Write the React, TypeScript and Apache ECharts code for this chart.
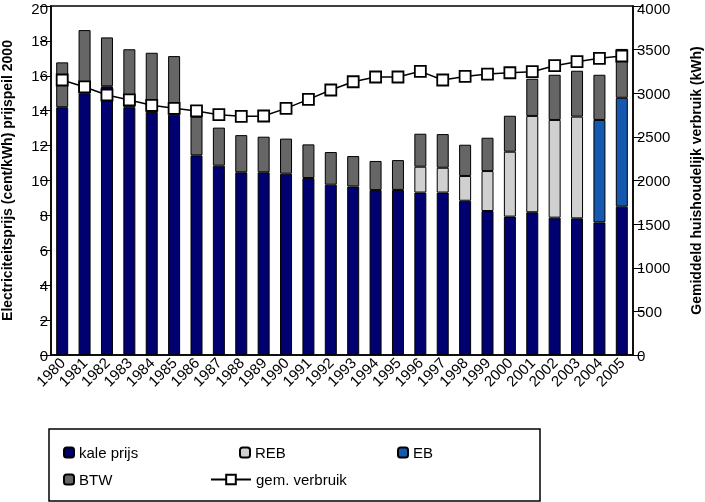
import React, { useEffect, useRef } from "react";
import * as echarts from "echarts";

const years = ["1980","1981","1982","1983","1984","1985","1986","1987","1988","1989","1990","1991","1992","1993","1994","1995","1996","1997","1998","1999","2000","2001","2002","2003","2004","2005"];
const kalePrijs = [14.2, 15.0, 15.4, 14.2, 13.93, 13.77, 11.44, 10.85, 10.47, 10.47, 10.39, 10.14, 9.76, 9.66, 9.45, 9.46, 9.31, 9.31, 8.84, 8.25, 7.93, 8.18, 7.87, 7.83, 7.6, 8.5];
const reb = [null, null, null, null, null, null, null, null, null, null, null, null, null, null, null, null, 1.48, 1.42, 1.42, 2.29, 3.72, 5.52, 5.6, 5.83, null, null];
const eb = [null, null, null, null, null, null, null, null, null, null, null, null, null, null, null, null, null, null, null, null, null, null, null, null, 5.87, 6.24];
const btw = [2.57, 3.62, 2.8, 3.32, 3.39, 3.36, 2.21, 2.18, 2.13, 2.04, 2.01, 1.93, 1.87, 1.74, 1.67, 1.71, 1.89, 1.93, 1.79, 1.91, 2.06, 2.13, 2.59, 2.63, 2.59, 2.8];
const verbruik = [3152, 3072, 2980, 2923, 2862, 2827, 2797, 2754, 2735, 2739, 2827, 2930, 3037, 3132, 3186, 3186, 3251, 3152, 3193, 3220, 3235, 3247, 3316, 3362, 3400, 3427];

const FONT = "'Liberation Sans', Arial, sans-serif";

export default function App() {
  const ref = useRef<HTMLDivElement>(null);
  useEffect(() => {
    if (!ref.current) return;
    const chart = echarts.init(ref.current, null, { renderer: "svg" });
    const barBase = {
      type: "bar",
      stack: "prijs",
      barWidth: 12,
      itemStyle: { borderColor: "#000", borderWidth: 1 },
    };
    const legendText = { fontFamily: FONT, fontSize: 15, color: "#000" };
    const mkLegend = (name: string, left: number, top: number, w = 10, h = 10) => ({
      data: [name],
      left,
      top,
      itemWidth: w,
      itemHeight: h,
      itemGap: 0,
      padding: 0,
      textStyle: legendText,
      selectedMode: false,
    });
    const topRich = { top: { fontSize: 15, fontFamily: FONT, color: "#000", padding: [4, 0, 0, 0] } };
    const fmt = (max: number) => (v: number) => (v === max ? `{top|${v}}` : String(v));
    chart.setOption({
      animation: false,
      textStyle: { fontFamily: FONT },
      grid: {
        left: 51,
        right: 72,
        top: 6,
        bottom: 147,
        containLabel: false,
        outerBoundsMode: "none",
        show: true,
        borderColor: "#000",
        borderWidth: 1.5,
        backgroundColor: "transparent",
      },
      legend: [
        mkLegend("kale prijs", 63, 445),
        mkLegend("REB", 239, 445),
        mkLegend("EB", 397, 445),
        mkLegend("BTW", 63, 472),
        mkLegend("gem. verbruik", 210, 472, 40, 12),
      ],
      xAxis: {
        type: "category",
        data: years,
        boundaryGap: true,
        axisLine: { lineStyle: { color: "#000", width: 1.5 } },
        axisTick: { length: 5, lineStyle: { color: "#000" } },
        axisLabel: { rotate: 45, interval: 0, fontSize: 15, color: "#000", margin: 5, fontFamily: FONT },
      },
      yAxis: [
        {
          type: "value",
          min: 0,
          max: 20,
          interval: 2,
          position: "left",
          name: "Electriciteitsprijs (cent/kWh) prijspeil 2000",
          nameLocation: "middle",
          nameGap: 37,
          nameRotate: 90,
          nameTextStyle: { fontFamily: FONT, fontSize: 14, fontWeight: "bold", color: "#000" },
          axisLine: { show: true, lineStyle: { color: "#000", width: 1.5 } },
          axisTick: { show: true, length: 11, lineStyle: { color: "#000" } },
          axisLabel: { fontSize: 15, color: "#000", margin: 3, fontFamily: FONT, formatter: fmt(20), rich: topRich },
          splitLine: { show: false },
        },
        {
          type: "value",
          min: 0,
          max: 4000,
          interval: 500,
          position: "right",
          name: "Gemiddeld huishoudelijk verbruik (kWh)",
          nameLocation: "middle",
          nameGap: 56,
          nameRotate: 90,
          nameTextStyle: { fontFamily: FONT, fontSize: 14, fontWeight: "bold", color: "#000" },
          axisLine: { show: true, lineStyle: { color: "#000", width: 1.5 } },
          axisTick: { show: true, length: 10, lineStyle: { color: "#000" } },
          axisLabel: { fontSize: 15, color: "#000", margin: 4, fontFamily: FONT, formatter: fmt(4000), rich: topRich },
          splitLine: { show: false },
        },
      ],
      series: [
        { ...barBase, name: "kale prijs", data: kalePrijs, itemStyle: { ...barBase.itemStyle, color: "#000070" } },
        { ...barBase, name: "REB", data: reb, itemStyle: { ...barBase.itemStyle, color: "#d0d0d0" } },
        { ...barBase, name: "EB", data: eb, itemStyle: { ...barBase.itemStyle, color: "#1458b0" } },
        { ...barBase, name: "BTW", data: btw, itemStyle: { ...barBase.itemStyle, color: "#666666" } },
        {
          type: "line",
          name: "gem. verbruik",
          yAxisIndex: 1,
          data: verbruik,
          symbol: "rect",
          symbolSize: 11,
          showAllSymbol: true,
          lineStyle: { color: "#000", width: 1.5 },
          itemStyle: { color: "#fff", borderColor: "#000", borderWidth: 1.8 },
          z: 5,
        },
      ],
      graphic: [
        {
          type: "rect",
          shape: { x: 49, y: 429, width: 491, height: 72 },
          style: { fill: "none", stroke: "#000", lineWidth: 1.5 },
          silent: true,
        },
      ],
    });
    return () => chart.dispose();
  }, []);
  return <div ref={ref} style={{ position: "fixed", left: 0, top: 0, width: 705, height: 502 }} />;
}
